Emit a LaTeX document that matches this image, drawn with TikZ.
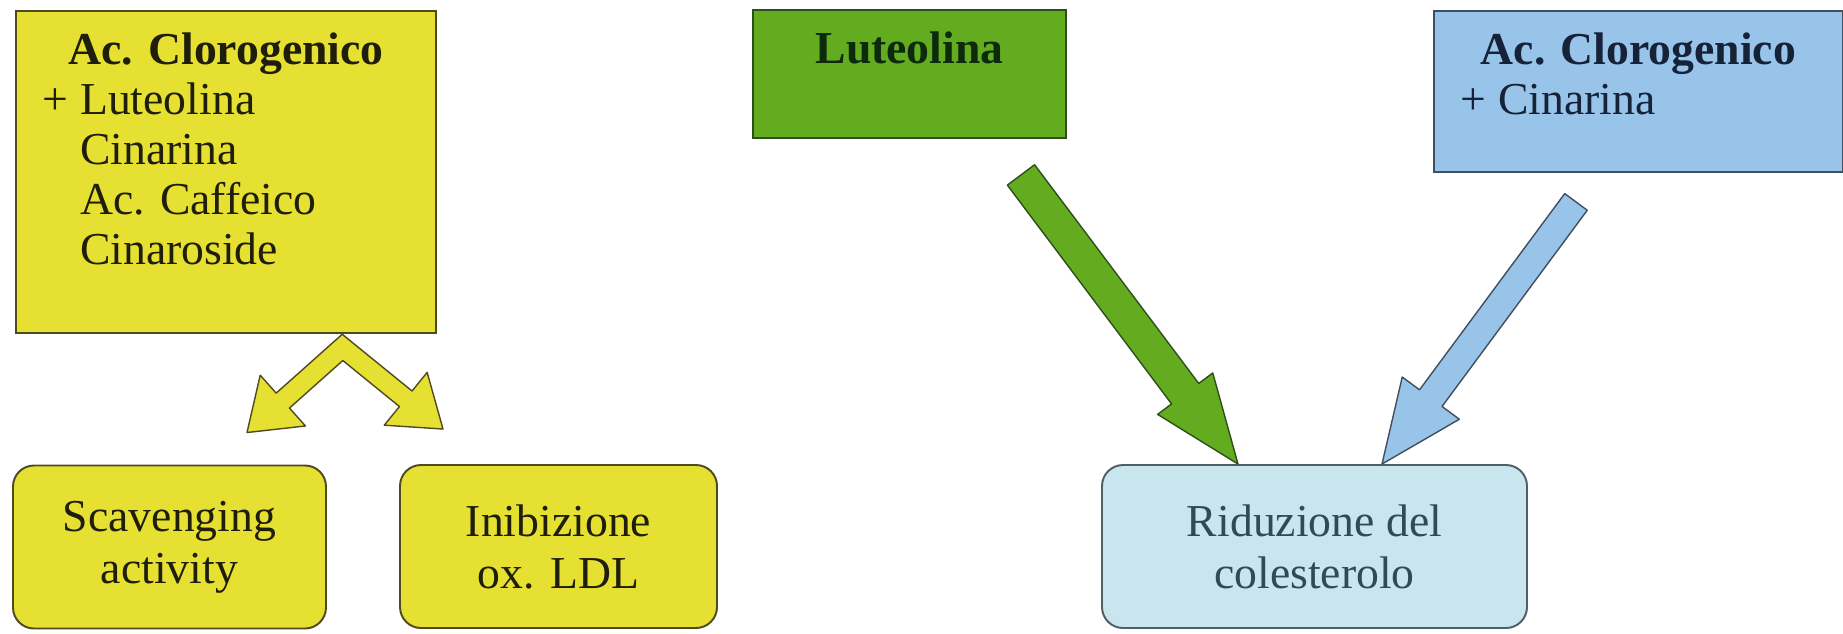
\documentclass[tikz,border=0pt]{standalone}
\usepackage{fontspec}
\setmainfont{Liberation Serif}
\usepackage{xcolor}
\usetikzlibrary{calc}

\definecolor{ylw}{HTML}{E6E032}
\definecolor{ylwline}{HTML}{4F4B1E}
\definecolor{ylwtext}{HTML}{1E1E0A}
\definecolor{grn}{HTML}{63AC1F}
\definecolor{grnline}{HTML}{2E4F1C}
\definecolor{grntext}{HTML}{0D2A0D}
\definecolor{blu}{HTML}{99C4EA}
\definecolor{bluline}{HTML}{3F4F60}
\definecolor{blutext}{HTML}{152238}
\definecolor{cyn}{HTML}{C9E6EF}
\definecolor{cynline}{HTML}{4F5F66}
\definecolor{cyntext}{HTML}{2F4C55}

\newcommand{\boxlines}[3]{\parbox[t][#2][t]{#1}{#3}}
\newcommand{\fatarrow}[6]{%
  \coordinate (fahead) at ($(#3)!#6!(#2)$);
  \draw[#1] ($(#2)!#4!90:(#3)$) -- ($(fahead)!#4!90:(#3)$) -- ($(fahead)!#5!90:(#3)$) -- (#3)
    -- ($(fahead)!#5!-90:(#3)$) -- ($(fahead)!#4!-90:(#3)$) -- ($(#2)!#4!-90:(#3)$) -- cycle;}

\begin{document}
\begin{tikzpicture}[
  headbox/.style={draw, line width=1.1pt, inner xsep=0.54cm, inner ysep=0.43cm, anchor=north west,
    font=\fontsize{26}{28.5}\selectfont},
  effbox/.style={draw, line width=1.1pt, rounded corners=0.42cm, align=center, inner sep=0pt,
    minimum height=3.26cm, font=\fontsize{26}{29.6}\selectfont},
  yarrow/.style={fill=ylw, draw=ylwline, line width=0.8pt, line join=round},
  garrow/.style={fill=grn, draw=grnline, line width=0.8pt, line join=round},
  barrow/.style={fill=blu, draw=bluline, line width=0.8pt, line join=round}]
\useasboundingbox (0,0) rectangle (36.86,12.66);

\node[headbox, fill=ylw, draw=ylwline, text=ylwtext] (clorog) at (0.30,12.46)
  {\boxlines{7.32cm}{5.58cm}{{\centering\bfseries Ac. Clorogenico\par}
   +~Luteolina\\ \hphantom{+}~Cinarina\\ \hphantom{+}~Ac. Caffeico\\ \hphantom{+}~Cinaroside}};
\node[headbox, fill=grn, draw=grnline, text=grntext] (luteo) at (15.04,12.48)
  {\boxlines{5.18cm}{1.70cm}{\centering\bfseries Luteolina}};
\node[headbox, fill=blu, draw=bluline, text=blutext] (clocin) at (28.66,12.46)
  {\boxlines{7.10cm}{2.36cm}{{\centering\bfseries Ac. Clorogenico\par}+~Cinarina}};

\node[effbox, fill=ylw, draw=ylwline, text=ylwtext, minimum width=6.26cm] (scav) at (3.39,1.72) {Scavenging\\activity};
\node[effbox, fill=ylw, draw=ylwline, text=ylwtext, minimum width=6.34cm] (inib) at (11.17,1.73) {Inibizione\\ox. LDL};
\node[effbox, fill=cyn, draw=cynline, text=cyntext, minimum width=8.50cm] (ridu) at (26.29,1.73) {Riduzione del\\colesterolo};

\coordinate (fork) at ($(clorog.south)+(2.33,-0.27)$);
\coordinate (tipscav) at ($(scav.north)+(1.55,0.64)$);
\coordinate (tipinib) at ($(inib.north)+(-2.31,0.70)$);
\coordinate (hs) at ($(tipscav)!0.96cm!(fork)$);
\coordinate (hi) at ($(tipinib)!0.96cm!(fork)$);
\coordinate (so) at ($(fork)!0.2cm!-90:(tipscav)$);
\coordinate (si) at ($(fork)!0.2cm!90:(tipscav)$);
\coordinate (io) at ($(fork)!0.2cm!90:(tipinib)$);
\coordinate (ii) at ($(fork)!0.2cm!-90:(tipinib)$);
\coordinate (hso) at ($(hs)!0.2cm!-90:(tipscav)$);
\coordinate (hsi) at ($(hs)!0.2cm!90:(tipscav)$);
\coordinate (hio) at ($(hi)!0.2cm!90:(tipinib)$);
\coordinate (hii) at ($(hi)!0.2cm!-90:(tipinib)$);
\draw[yarrow] (intersection of so--hso and io--hio) -- (hso) -- ($(hs)!0.68cm!-90:(tipscav)$) -- (tipscav)
  -- ($(hs)!0.68cm!90:(tipscav)$) -- (hsi) -- (intersection of si--hsi and ii--hii) -- (hii)
  -- ($(hi)!0.68cm!-90:(tipinib)$) -- (tipinib) -- ($(hi)!0.68cm!90:(tipinib)$) -- (hio) -- cycle;

\coordinate (gtail) at ($(luteo.south)+(2.23,-0.72)$);
\coordinate (gtip) at ($(ridu.north)+(-1.53,0)$);
\fatarrow{garrow}{gtail}{gtip}{0.34cm}{0.69cm}{1.76cm}
\coordinate (btail) at ($(clocin.south)+(-1.25,-0.58)$);
\coordinate (btip) at ($(ridu.north)+(1.35,0)$);
\fatarrow{barrow}{btail}{btip}{0.28cm}{0.71cm}{1.64cm}
\end{tikzpicture}
\end{document}
